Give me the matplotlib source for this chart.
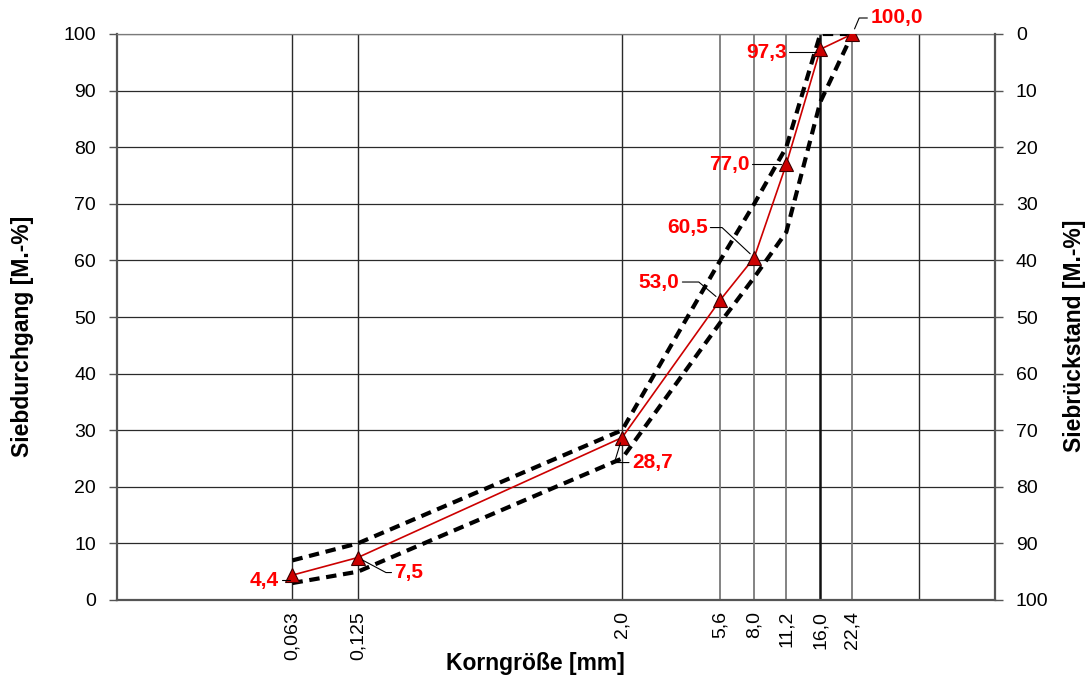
"""Sieblinie: Siebdurchgang mit Grenzsieblinien."""

import matplotlib

matplotlib.use("Agg")
import matplotlib.pyplot as plt
from matplotlib.ticker import NullLocator

plt.rcParams["font.family"] = ["Liberation Sans", "DejaVu Sans"]

# sieve sizes in mm and their tick labels
SIEVES = [0.063, 0.125, 2.0, 5.6, 8.0, 11.2, 16.0, 22.4]
SIEVE_LABELS = ["0,063", "0,125", "2,0", "5,6", "8,0", "11,2", "16,0", "22,4"]
EXTRA_GRID = [45.0]

# passing in M.-%
PASSING = [4.4, 7.5, 28.7, 53.0, 60.5, 77.0, 97.3, 100.0]
UPPER_LIMIT = [7, 10, 30, 60, 70, 80, 100, 100]
LOWER_LIMIT = [3, 5, 25, 49, 57, 65, 88, 100]

PERCENT_TICKS = list(range(0, 101, 10))

# label placement: offset in pixels from the point, angle of leader line
LABEL_OFFSETS = [
    (-28, -5, 90),
    (51, -15, -28),
    (30, -25, 73),
    (-61, 18, -40),
    (-67, 30, -43),
    (-57, 0, 90),
    (-54, -3, 90),
    (44, 16, 67),
]

RED = "#CC0000"
LABEL_RED = "#FF0000"
GRID_DARK = "#2A2A2A"
GRID_GRAY = "#7A7A7A"

fig = plt.figure(figsize=(10.9, 6.8), dpi=100)
ax = fig.add_axes([117 / 1090, 80 / 680, 878 / 1090, 566 / 680])

ax.set_xscale("log")
ax.set_xlim(0.01, 100)
ax.set_ylim(0, 100)

# grid
for y in PERCENT_TICKS[1:]:
    ax.axhline(y, color=GRID_DARK, lw=0.9, zorder=1)
for x in SIEVES + EXTRA_GRID:
    if x in (5.6, 8.0, 11.2, 22.4):
        ax.axvline(x, color=GRID_GRAY, lw=1.3, zorder=1)
    elif x == 16.0:
        ax.axvline(x, color="#111111", lw=1.8, zorder=1)
    else:
        ax.axvline(x, color=GRID_DARK, lw=1.0, zorder=1)

# limit curves and measured curve
ax.plot(SIEVES, UPPER_LIMIT, color="black", lw=3.0, dashes=(2.5, 1.6), zorder=3)
ax.plot(SIEVES, LOWER_LIMIT, color="black", lw=3.0, dashes=(2.5, 1.6), zorder=3)
ax.plot(
    SIEVES,
    PASSING,
    color=RED,
    lw=1.2,
    marker="^",
    markersize=9.5,
    markerfacecolor=RED,
    markeredgecolor="#3A0000",
    markeredgewidth=0.8,
    zorder=4,
)

for x, y, (dx, dy, angle) in zip(SIEVES, PASSING, LABEL_OFFSETS):
    ax.annotate(
        f"{y:.1f}".replace(".", ","),
        xy=(x, y),
        xytext=(dx, dy),
        textcoords="offset pixels",
        ha="center",
        va="center",
        fontsize=15,
        fontweight="bold",
        color=LABEL_RED,
        zorder=5,
        annotation_clip=False,
        arrowprops=dict(
            arrowstyle="-",
            color="black",
            lw=0.8,
            shrinkA=0,
            shrinkB=4,
            connectionstyle=f"angle,angleA=0,angleB={angle},rad=0",
        ),
    )

# x axis
ax.set_xticks(SIEVES)
ax.set_xticklabels(SIEVE_LABELS, rotation=90, fontsize=14)
ax.xaxis.set_minor_locator(NullLocator())
ax.tick_params(axis="x", length=0, pad=8)
ax.set_xlabel("Korngröße [mm]", fontsize=16.5, fontweight="bold", va="center")
ax.xaxis.set_label_coords(0.477, -0.113)

# left y axis
ax.set_yticks(PERCENT_TICKS)
ax.tick_params(axis="y", labelsize=14, length=6, width=1.0, pad=9, color="#555555")
ax.set_ylabel("Siebdurchgang [M.-%]", fontsize=16.5, fontweight="bold", va="center")
ax.yaxis.set_label_coords(-0.108, 0.466)

for side in ("left", "bottom"):
    ax.spines[side].set_color("#555555")
    ax.spines[side].set_linewidth(1.6)
ax.spines["top"].set_color(GRID_GRAY)
ax.spines["top"].set_linewidth(0.9)
ax.spines["right"].set_visible(False)

# right y axis (residue)
ax2 = ax.twinx()
ax2.set_ylim(100, 0)
ax2.set_yticks(PERCENT_TICKS)
ax2.tick_params(axis="y", labelsize=14, length=6, width=1.0, pad=9, color="#555555")
ax2.set_ylabel("Siebrückstand [M.-%]", fontsize=16.5, fontweight="bold", va="center")
ax2.yaxis.set_label_coords(1.091, 0.466)
for side in ("left", "top", "bottom"):
    ax2.spines[side].set_visible(False)
ax2.spines["right"].set_color("#555555")
ax2.spines["right"].set_linewidth(1.6)

fig.savefig("out.png", dpi=100)
